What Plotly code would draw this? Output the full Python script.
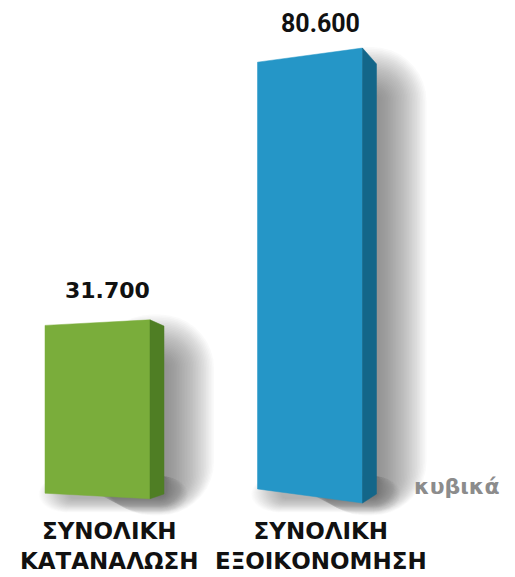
import numpy as np
import plotly.graph_objects as go

# ---------------- data ----------------
categories = ["ΣΥΝΟΛΙΚΗ<br>ΚΑΤΑΝΑΛΩΣΗ", "ΣΥΝΟΛΙΚΗ<br>ΕΞΟΙΚΟΝΟΜΗΣΗ"]
values = [31.7, 80.6]
value_labels = ["31.700", "80.600"]
watermark = "κυβικά"

# ---------------- style ----------------
front_colors = ["#7AAD3B", "#2596C7"]
side_colors = ["#4F7E24", "#136689"]
label_fonts = [dict(family="DejaVu Sans", size=22, color="#111111", weight="bold"),
               dict(family="Roboto", size=25, color="#111111", weight="bold")]
label_shift = [15, 8]

W, H = 515, 577
SX = 212.5   # px per category unit
SY = 5.47    # px per value unit
X0 = -97.5 / SX
X1 = X0 + W / SX
Y1 = 496 / SY
Y0 = Y1 - H / SY


def dx(p):
    return p / SX


def dy(p):
    return p / SY


HW = dx(52.5)      # half width of front face
DEPTH = dx(14)     # side depth
TILT = 0.016


def rrect(xa, xb, ya, yb, r):
    """rounded rectangle polygon (data coords), corner radius r in px"""
    rx, ry = dx(r), dy(r)
    rx = min(rx, (xb - xa) / 2)
    ry = min(ry, (yb - ya) / 2)
    xs, ys = [], []
    corners = [(xb - rx, yb - ry, 0), (xa + rx, yb - ry, 90),
               (xa + rx, ya + ry, 180), (xb - rx, ya + ry, 270)]
    for cx, cy, a0 in corners:
        for a in np.linspace(a0, a0 + 90, 10):
            t = np.radians(a)
            xs.append(cx + rx * np.cos(t))
            ys.append(cy + ry * np.sin(t))
    xs.append(xs[0])
    ys.append(ys[0])
    return xs, ys


fig = go.Figure()

NL = 30
ST = 48.0 / NL
# shadows
for i, v in enumerate(values):
    xl, xr = i - HW, i + HW
    xs_ = xr + DEPTH
    # right side shadow
    for k in range(1, NL + 1):
        px, py = rrect(i, xs_ + dx(2) + dx(ST * k),
                       -dy(0.4 * ST * k), v - dy(40) + dy(ST * k), ST * k + 6)
        fig.add_trace(go.Scatter(x=px, y=py, mode="none", fill="toself",
                                 fillcolor="rgba(80,80,90,0.032)",
                                 hoverinfo="skip", showlegend=False))
    # bottom shadow
    for k in range(1, NL + 1):
        px, py = rrect(xl + dx(25) - dx(0.65 * ST * k), xs_ + dx(0.5 * ST * k),
                       -dy(2) - dy(0.3 * ST * k), dy(20), 0.5 * ST * k + 4)
        fig.add_trace(go.Scatter(x=px, y=py, mode="none", fill="toself",
                                 fillcolor="rgba(80,80,90,0.02)",
                                 hoverinfo="skip", showlegend=False))

# bars
for i, v in enumerate(values):
    xl, xr = i - HW, i + HW
    xs_ = xr + DEPTH
    t = TILT * v
    fig.add_trace(go.Scatter(
        x=[xl, xr, xr, xl, xl], y=[t, -t, v + t, v - t, t],
        mode="lines", fill="toself", fillcolor=front_colors[i],
        line=dict(width=0.5, color=front_colors[i]), hoverinfo="skip",
        showlegend=False))
    fig.add_trace(go.Scatter(
        x=[xr, xs_, xs_, xr, xr], y=[-t, dy(2), v - 0.02 * v, v + t, -t],
        mode="lines", fill="toself", fillcolor=side_colors[i],
        line=dict(width=0.5, color=side_colors[i]), hoverinfo="skip",
        showlegend=False))
    # value label
    fig.add_annotation(x=(xl + xs_) / 2 + dx(3), y=v + t, yshift=label_shift[i],
                       text=value_labels[i], showarrow=False,
                       xanchor="center", yanchor="bottom",
                       font=label_fonts[i])
    # category label
    fig.add_annotation(x=(xl + xs_) / 2 + dx(4), y=0, yshift=-20,
                       text=categories[i], showarrow=False,
                       xanchor="center", yanchor="top",
                       font=dict(family="DejaVu Sans", size=23,
                                 color="#111111", weight="bold"))

fig.add_annotation(x=457 / W, y=1 - 486 / H, xref="paper", yref="paper",
                   text=watermark, showarrow=False,
                   xanchor="center", yanchor="middle",
                   font=dict(family="DejaVu Sans", size=22, color="#8C8C8C",
                             weight="bold"))

fig.update_layout(
    width=W, height=H,
    margin=dict(l=0, r=0, t=0, b=0),
    paper_bgcolor="white", plot_bgcolor="white",
    xaxis=dict(range=[X0, X1], visible=False, fixedrange=True),
    yaxis=dict(range=[Y0, Y1], visible=False, fixedrange=True),
    showlegend=False,
)

fig.write_html("out.html", config={"displayModeBar": False},
               post_script="document.body.style.margin='0px';")
